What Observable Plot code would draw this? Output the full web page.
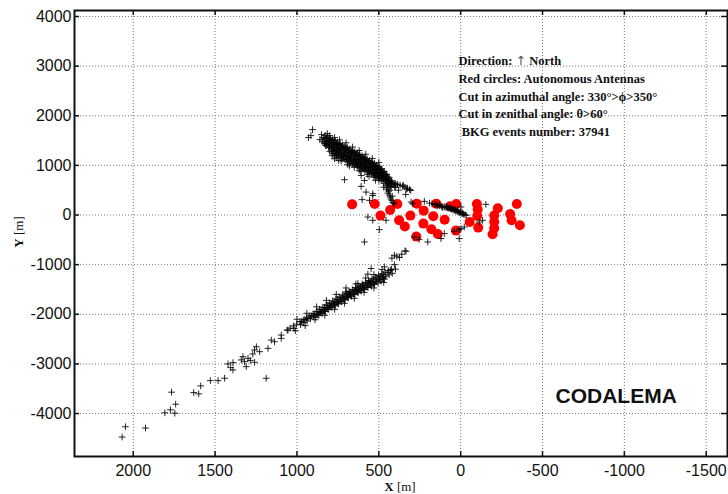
<!DOCTYPE html>
<html><head><meta charset="utf-8">
<script src="https://cdn.jsdelivr.net/npm/d3@7"></script>
<script src="https://cdn.jsdelivr.net/npm/@observablehq/plot@0.6"></script>
<style>body{margin:0;background:#fff;} svg{display:block;}</style>
</head><body><div id="chart"></div>
<script>
// ---- tick values ----
const xTicks = [2000, 1500, 1000, 500, 0, -500, -1000, -1500];
const yTicks = [-4000, -3000, -2000, -1000, 0, 1000, 2000, 3000, 4000];

// ---- autonomous antennas (red circles) ----
const antennaX = [663, 525, 490, 431, 387, 376, 341, 307, 268, 226, 228, 271, 179, 167, 149, 140, 98, 65, 27, 29, -55, -99, -104, -101, -107, -227, -205, -205, -205, -195, -343, -302, -311, -362];
const antennaY = [215, 222, -12, 101, 221, -107, -233, -12, 229, 88, -173, -435, -288, -26, 229, -382, -93, 175, 221, -314, -141, 221, 109, -20, -254, 135, -12, -141, -268, -388, 221, 20, -107, -207];

// ---- BKG events (black crosses) ----
const bkgUpperStreak = [[930,1560],[905,1720],[915,1600],
[840,1560],[845,1490],[828,1605],[822,1530],[830,1450],
[812,1575],[808,1500],[815,1420],[806,1360],
[797,1545],[793,1470],[799,1400],[790,1330],
[781,1520],[778,1455],[784,1380],[776,1300],[782,1235],
[766,1495],[763,1420],[768,1350],[761,1280],[767,1200],
[752,1465],[748,1400],[754,1330],[746,1260],[751,1190],
[737,1440],[733,1370],[739,1300],[731,1230],[736,1165],
[722,1410],[718,1345],[724,1270],[716,1200],[721,1130],
[707,1385],[703,1320],[709,1250],[701,1180],[706,1110],
[692,1360],[688,1290],[694,1220],[686,1150],[691,1080],
[677,1330],[673,1265],[679,1190],[671,1120],[676,1050],
[662,1300],[658,1240],[664,1170],[656,1100],[661,1030],
[647,1275],[643,1210],[649,1140],[641,1070],[646,1010],
[632,1250],[628,1180],[634,1110],[626,1050],[631,980],
[617,1220],[613,1150],[619,1090],[611,1020],[616,950],
[602,1190],[598,1125],[604,1060],[596,1000],[601,930],
[587,1160],[583,1100],[589,1030],[581,970],[586,900],
[572,1130],[568,1070],[574,1010],[566,950],[571,880],
[557,1100],[553,1040],[559,980],[551,920],[556,860],
[542,1070],[538,1010],[544,950],[536,890],[541,830],
[527,1040],[523,980],[529,920],[521,860],[526,800],
[512,1000],[508,950],[514,890],[506,830],[511,770],
[497,970],[493,910],[499,860],[491,800],[496,740],
[482,930],[478,880],[484,820],[476,760],[481,700],
[467,880],[463,830],[469,770],[461,710],
[452,820],[448,770],[454,710],[446,650],
[437,760],[433,700],[439,640],[431,580],
[422,690],[418,630],[424,570],
[407,620],[403,560]];

const bkgUpperCore = [[833,1540],[833,1470],
[818,1550],[818,1480],[818,1400],
[803,1520],[803,1440],[803,1370],
[788,1500],[788,1420],[788,1350],[788,1270],
[773,1470],[773,1390],[773,1320],[773,1240],
[758,1440],[758,1370],[758,1300],[758,1220],
[743,1420],[743,1340],[743,1270],[743,1200],
[728,1390],[728,1310],[728,1240],[728,1170],
[713,1360],[713,1290],[713,1210],[713,1140],
[698,1340],[698,1260],[698,1190],[698,1120],
[683,1310],[683,1230],[683,1160],[683,1090],
[668,1280],[668,1210],[668,1140],[668,1070],
[653,1255],[653,1180],[653,1110],[653,1040],
[638,1230],[638,1150],[638,1080],[638,1010],
[623,1200],[623,1120],[623,1060],[623,990],
[608,1170],[608,1090],[608,1030],[608,960],
[593,1140],[593,1070],[593,1000],[593,930],
[578,1110],[578,1040],[578,980],[578,910],
[563,1080],[563,1010],[563,950],[563,890],
[548,1050],[548,980],[548,920],[548,860],
[533,1020],[533,950],[533,890],[533,830],
[518,990],[518,920],[518,860],[518,800],
[503,950],[503,890],[503,830],[503,770],
[488,920],[488,850],[488,790],[488,730],
[473,860],[473,800],[473,740],
[458,800],[458,740],[458,680],
[443,730],[443,670],[443,610],
[428,660],[428,600]];

const bkgUpperHalo = [[850,1620],[815,1640],[800,1600],[770,1560],[740,1515],[700,1455],[660,1370],[620,1300],[580,1225],[540,1140],[500,1060],
[800,1285],[785,1195],[760,1150],[730,1090],[690,1020],[650,960],[610,880],[570,820],[530,760],[500,700],[470,640],[745,1100],[680,990],[620,900],[560,780],[860,1520],[825,1400]];

const bkgUpperTail = [[500,760],[480,735],[460,710],[440,690],[420,660],[400,640],[385,620],[370,600],[355,580],[340,560],[325,540],[312,515],[305,495],[350,600],[395,610],[330,520],
[455,600],[448,560],[452,520],[440,480],[445,440],[436,400],[430,360],[426,320],[420,290],[414,250],[408,225],[432,500],[418,380],[520,700],[470,560],[400,560],[380,500]];

const bkgNearZero = [[190,240],[175,228],[160,215],[150,205],[140,195],[128,188],[118,178],[108,170],[98,162],[90,152],[80,144],[72,135],[62,126],[55,115],[46,104],[38,95],[30,84],[22,72],[14,62],[6,50],[-2,38],[-10,28],[-18,16],[-26,6],[-34,-6],[112,150],[66,150],[34,110],[2,60],[130,205],[86,168],[48,125],[20,90],[-12,45]];

const bkgScatter = [[832,1435],[771,1133],[710,711],[608,797],[588,697],[608,577],[578,462],[537,430],[602,310],[557,296],[537,392],[478,762],[336,414],
[567,-40],[537,-107],[456,-107],[497,-295],[588,-543],[303,261],[293,229],[222,275],[283,-442],[254,-490],[201,-543],[120,-475],[100,-374],[39,-328],[9,-295],[-2,-274],[-22,-241],[9,-475],[-2,161],[-154,215],[-134,-107],[-113,-141]];

const bkgLowerStreak = [[334,-730],[340,-723],[405,-810],[374,-857],[390,-830],[360,-790],[420,-870],[429,-1112],[466,-1045],[547,-1078],[567,-1192],
[405,-1000],[398,-1090],
[422,-1095],[418,-1175],
[442,-1120],[437,-1205],[445,-1160],
[462,-1150],[457,-1235],[465,-1290],
[482,-1185],[477,-1265],[486,-1335],
[502,-1220],[497,-1300],[505,-1370],
[522,-1255],[517,-1330],[526,-1400],
[542,-1285],[537,-1360],[545,-1435],
[562,-1320],[557,-1395],[566,-1460],[560,-1350],
[582,-1360],[577,-1430],[586,-1500],
[602,-1390],[597,-1465],[606,-1530],[600,-1420],
[622,-1430],[617,-1500],[626,-1570],
[642,-1460],[637,-1535],[646,-1600],[640,-1500],
[662,-1500],[657,-1570],[666,-1640],
[682,-1540],[677,-1605],[686,-1670],[680,-1580],
[702,-1575],[697,-1640],[706,-1710],
[722,-1610],[717,-1680],[726,-1750],
[742,-1650],[737,-1720],[746,-1790],
[762,-1690],[757,-1760],[766,-1830],
[782,-1730],[777,-1800],[786,-1860],
[802,-1770],[797,-1840],[806,-1900],
[822,-1810],[817,-1880],[826,-1940],
[842,-1860],[837,-1920],[846,-1980],
[862,-1900],[857,-1960],[866,-2020],
[882,-1950],[877,-2005],[886,-2060],
[902,-1990],[898,-2050],
[922,-2035],[918,-2090],
[942,-2080],[938,-2135],
[962,-2115],[958,-2170],
[982,-2150],[978,-2210],
[1002,-2200],[1022,-2235],[1018,-2285],[1042,-2280],[1060,-2320],[628,-1380],[700,-1548]];

const bkgLowerCore = [[472,-1200],[472,-1270],[492,-1235],[492,-1305],[512,-1270],[512,-1340],[532,-1305],[532,-1375],
[552,-1340],[552,-1410],[572,-1375],[572,-1450],[592,-1410],[592,-1480],[612,-1445],[612,-1520],
[632,-1480],[632,-1555],[652,-1520],[652,-1590],[672,-1555],[672,-1625],[692,-1590],[692,-1660],
[712,-1630],[712,-1700],[732,-1665],[732,-1740],[752,-1705],[752,-1775],[772,-1745],[772,-1815],
[792,-1785],[792,-1855],[812,-1825],[812,-1895],[832,-1865],[832,-1935],[852,-1905],[852,-1975],
[872,-1945],[872,-2010],[892,-1995],[912,-2030],[932,-2070],[952,-2105],[972,-2145]];

const bkgLowerHalo = [[480,-1100],[530,-1200],[580,-1270],[640,-1390],[700,-1470],[760,-1600],[820,-1720],[880,-1850],[940,-1980],[1000,-2100],
[470,-1360],[530,-1470],[590,-1560],[650,-1680],[710,-1780],[770,-1900],[830,-2020],[890,-2110],[950,-2230],[1010,-2330]];

const bkgLowerTail = [[1096,-2419],[1137,-2553],[1157,-2520],[1177,-2687],[1228,-2754],[1259,-2720],[1248,-2654],[1299,-2888],[1330,-2855],[1320,-2955],[1259,-2968],[1310,-3055],[1391,-2975],[1421,-3001],[1405,-3075],[1391,-3122],[1188,-3289],[1442,-3289],[1482,-3337],[1529,-3337],[1588,-3443],[1631,-3578],[1600,-3604],[1766,-3570],[1741,-3812],[1773,-3925],[1807,-3986],[1746,-3993],[1925,-4293],[2048,-4267],[2068,-4474],[1096,-2486],[1055,-2318],[1270,-2800],[1285,-2930],[1340,-2920]];

// ---- text ----
const noteLines = ["Direction: \u2191 North", "Red circles: Autonomous Antennas", "Cut in azimuthal angle: 330\u00b0>\u03d5>350\u00b0", "Cut in zenithal angle: \u03b8>60\u00b0", "\u00a0BKG events number: 37941"];
const brandLabel = "CODALEMA";
const xLabel = ["X", " [m]"];
const yLabel = ["Y", " [m]"];

// ---- build ----
const antennas = antennaX.map((x, i) => ({x, y: antennaY[i]}));
const bkg = [...bkgUpperStreak, ...bkgUpperCore, ...bkgUpperHalo, ...bkgUpperTail, ...bkgNearZero, ...bkgScatter, ...bkgLowerStreak, ...bkgLowerCore, ...bkgLowerHalo, ...bkgLowerTail].map(([x, y]) => ({x, y}));

const W = 728, H = 494, mL = 74, mR = 1, mT = 10, mB = 38;
const innerW = W - mL - mR, innerH = H - mT - mB;
const fmt = d => String(d);
const serif = "'Liberation Serif', 'DejaVu Serif', serif";

const chart = Plot.plot({
  width: W, height: H,
  marginLeft: mL, marginRight: mR, marginTop: mT, marginBottom: mB,
  style: {fontFamily: "'Liberation Sans', Arial, sans-serif", background: "#fff", color: "#111"},
  x: {domain: [2359, -1630], label: null},
  y: {domain: [-4866, 4121], label: null},
  marks: [
    Plot.gridX({ticks: xTicks, stroke: "#777", strokeOpacity: 1, strokeWidth: 1, strokeDasharray: "1,2"}),
    Plot.gridY({ticks: yTicks, stroke: "#777", strokeOpacity: 1, strokeWidth: 1, strokeDasharray: "1,2"}),
    Plot.dot(antennas, {x: "x", y: "y", r: 5, fill: "#ff0000"}),
    Plot.dot(bkg, {x: "x", y: "y", symbol: "plus", r: 2.3, stroke: "#000", strokeWidth: 1, strokeOpacity: 0.85}),
    Plot.tickX(xTicks, {x: d => d, insetTop: innerH - 5, stroke: "#111", strokeWidth: 1.5}),
    Plot.tickX(xTicks, {x: d => d, insetBottom: innerH - 5, stroke: "#111", strokeWidth: 1.5}),
    Plot.tickY(yTicks, {y: d => d, insetLeft: innerW - 6, stroke: "#111", strokeWidth: 1.5}),
    Plot.tickY(yTicks, {y: d => d, insetRight: innerW - 5, stroke: "#111", strokeWidth: 1.5}),
    Plot.axisX({ticks: xTicks, anchor: "bottom", tickSize: 0, tickPadding: 8, fontSize: 16, tickFormat: fmt, label: null}),
    Plot.axisY({ticks: yTicks, anchor: "left", tickSize: 0, tickPadding: 3, fontSize: 16, tickFormat: fmt, label: null}),
    Plot.frame({stroke: "#111", strokeWidth: 2}),
    Plot.text([noteLines.join("\n")], {frameAnchor: "top-left", dx: 384, dy: 42, textAnchor: "start", lineAnchor: "top",
      fontFamily: serif, fontWeight: "bold", fontSize: 12.5, lineHeight: 1.42, fill: "#111"}),
    Plot.text([brandLabel], {frameAnchor: "top-left", dx: 481, dy: 386, textAnchor: "start", lineAnchor: "middle",
      fontFamily: "'Liberation Sans', Arial, sans-serif", fontWeight: "bold", fontSize: 21, fill: "#111"})
  ]
});

const svg = d3.select(chart);

// render the arrow glyph with a plain text font (avoid emoji fallback)
svg.selectAll("tspan").filter(function() { return this.textContent === noteLines[0]; }).each(function() {
  const t = d3.select(this);
  const [before, after] = noteLines[0].split("\u2191");
  t.text(null);
  t.append("tspan").text(before);
  t.append("tspan").attr("font-family", "'DejaVu Sans', sans-serif").attr("font-weight", "normal").attr("fill", "#555").text("\u2191");
  t.append("tspan").text(after);
});

const xl = svg.append("text").attr("x", 400).attr("y", 491).attr("text-anchor", "middle")
  .attr("font-family", serif).attr("font-size", 13).attr("fill", "#111");
xl.append("tspan").attr("font-weight", "bold").text(xLabel[0]);
xl.append("tspan").text(xLabel[1]);
const yl = svg.append("text").attr("transform", "translate(23,232) rotate(-90)").attr("text-anchor", "middle")
  .attr("font-family", serif).attr("font-size", 13).attr("fill", "#111");
yl.append("tspan").attr("font-weight", "bold").text(yLabel[0]);
yl.append("tspan").text(yLabel[1]);

document.getElementById("chart").appendChild(chart);
</script>
</body></html>
